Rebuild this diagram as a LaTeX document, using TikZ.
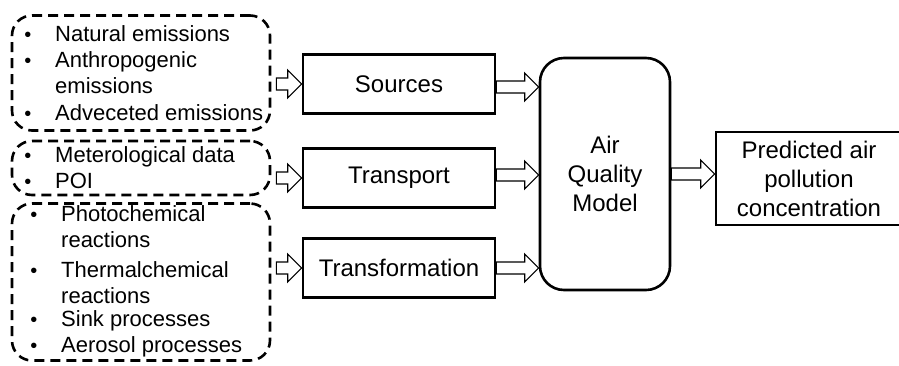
\documentclass[tikz,border=0pt]{standalone}
\usepackage{fontspec}
\setmainfont{Liberation Sans}
\usetikzlibrary{calc}

\tikzset{
  listbox/.style={draw, line width=2.6pt, dash pattern=on 10pt off 6pt,
    rounded corners=20pt, inner sep=0pt},
  procbox/.style={draw, line width=2.6pt, inner sep=0pt,
    font=\fontsize{24}{29}\selectfont, align=center},
  item/.style={anchor=base west, inner sep=0pt, font=\fontsize{22}{26}\selectfont},
  dot/.style={anchor=base, inner sep=0pt, font=\fontsize{20}{24}\selectfont},
  blk/.style={draw, line width=1.1pt, fill=white, line join=miter}
}

% hollow block arrow from the x of #1 to the x of #2, at the height of #3
\newcommand{\blockarrow}[3]{%
  \draw[blk] let \p1=(#1), \p2=(#2), \p3=(#3) in
    (\x1,\y3+6) -- (\x2-14,\y3+6) -- (\x2-14,\y3+14) -- (\x2,\y3)
    -- (\x2-14,\y3-14) -- (\x2-14,\y3-6) -- (\x1,\y3-6) -- cycle;}

\begin{document}
\begin{tikzpicture}[x=1pt,y=-1pt]
\useasboundingbox (0,0) rectangle (899,365);

% dashed groups of inputs
\node[listbox, minimum width=258pt, minimum height=115pt] (list1) at (141,73) {};
\node[listbox, minimum width=258pt, minimum height=54pt] (list2) at (141,168) {};
\node[listbox, minimum width=258pt, minimum height=157pt] (list3) at (141,282) {};

% items of the first group
\node[dot] (b1a) at (28,41) {•};
\node[item] (t1a) at (55,41) {Natural emissions};
\node[dot] (b1b) at (28,67) {•};
\node[item] (t1b) at (55,67) {Anthropogenic};
\node[item] (t1c) at (55,93) {emissions};
\node[dot] (b1d) at (28,120) {•};
\node[item] (t1d) at (55,120) {Adveceted emissions};

% items of the second group
\node[dot] (b2a) at (28,162) {•};
\node[item] (t2a) at (55,162) {Meterological data};
\node[dot] (b2b) at (28,188) {•};
\node[item] (t2b) at (55,188) {POI};

% items of the third group
\node[dot] (b3a) at (34,221) {•};
\node[item] (t3a) at (61,221) {Photochemical};
\node[item] (t3b) at (61,247) {reactions};
\node[dot] (b3c) at (34,277) {•};
\node[item] (t3c) at (61,277) {Thermalchemical};
\node[item] (t3d) at (61,303) {reactions};
\node[dot] (b3e) at (34,326) {•};
\node[item] (t3e) at (61,326) {Sink processes};
\node[dot] (b3f) at (34,352) {•};
\node[item] (t3f) at (61,352) {Aerosol processes};

% processes
\node[procbox, minimum width=192pt, minimum height=59pt] (src) at (399,84) {Sources};
\node[procbox, minimum width=192pt, minimum height=59pt] (trn) at (399,178) {Transport};
\node[procbox, minimum width=192pt, minimum height=59pt] (tfm) at (399,268) {Transformation};

% model and result
\node[procbox, rounded corners=24pt, minimum width=130pt, minimum height=232pt] (aqm) at (605,174)
  {Air\\Quality\\Model};
\node[procbox, minimum width=186pt, minimum height=93pt] (out) at (809,178.5)
  {Predicted air\\pollution\\concentration};

% inputs into the processes
\coordinate (in1) at ($(list1.east)+(5,0)$);
\coordinate (in2) at ($(list2.east)+(5,0)$);
\coordinate (in3) at ($(list3.east)+(5,0)$);
\blockarrow{in1}{src.west}{src.west}
\blockarrow{in2}{trn.west}{trn.west}
\blockarrow{in3}{tfm.west}{tfm.west}

% processes into the model
\blockarrow{src.east}{aqm.west}{$(src.east)+(0,3)$}
\blockarrow{trn.east}{aqm.west}{$(trn.east)+(0,-3)$}
\blockarrow{tfm.east}{aqm.west}{tfm.east}

% model into the result
\blockarrow{aqm.east}{out.west}{aqm.east}
\end{tikzpicture}
\end{document}
